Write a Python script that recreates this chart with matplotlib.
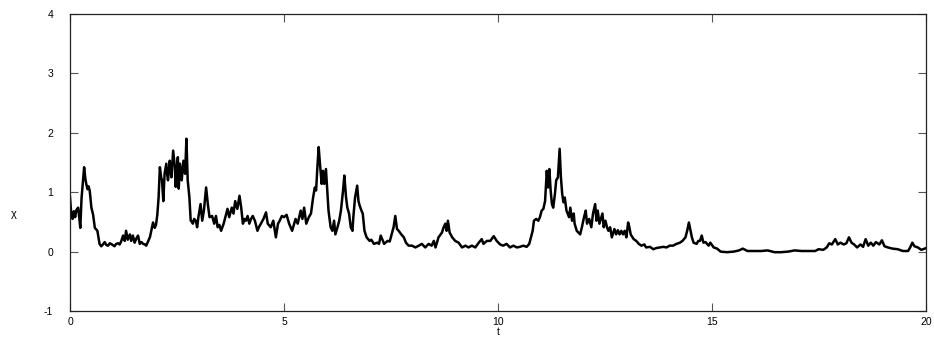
import matplotlib
matplotlib.use("Agg")
import matplotlib.pyplot as plt

t = [0.00, 0.03, 0.06, 0.09, 0.12, 0.15, 0.19, 0.22, 0.24, 0.27, 0.30, 0.33, 0.36, 0.38, 0.41, 0.43, 0.46, 0.50,
     0.54, 0.58, 0.64, 0.69, 0.73, 0.77, 0.81, 0.85, 0.89, 0.93, 0.96, 1.00, 1.04, 1.08, 1.12, 1.16, 1.20, 1.24,
     1.28, 1.31, 1.35, 1.40, 1.43, 1.47, 1.51, 1.55, 1.59, 1.63, 1.67, 1.71, 1.75, 1.78, 1.83, 1.87, 1.90, 1.94,
     1.98, 2.01, 2.04, 2.07, 2.10, 2.13, 2.15, 2.18, 2.21, 2.25, 2.27, 2.29, 2.33, 2.35, 2.37, 2.41, 2.45, 2.47,
     2.49, 2.52, 2.54, 2.57, 2.61, 2.65, 2.69, 2.72, 2.75, 2.79, 2.82, 2.85, 2.87, 2.90, 2.94, 2.97, 3.00, 3.05,
     3.09, 3.13, 3.18, 3.22, 3.26, 3.32, 3.37, 3.41, 3.45, 3.49, 3.53, 3.59, 3.65, 3.68, 3.72, 3.78, 3.82, 3.86,
     3.91, 3.96, 4.00, 4.04, 4.08, 4.11, 4.15, 4.19, 4.23, 4.27, 4.32, 4.38, 4.42, 4.46, 4.52, 4.58, 4.62, 4.69,
     4.75, 4.81, 4.86, 4.90, 4.95, 5.00, 5.06, 5.12, 5.19, 5.23, 5.27, 5.32, 5.39, 5.43, 5.47, 5.52, 5.58, 5.63,
     5.68, 5.72, 5.75, 5.78, 5.81, 5.84, 5.88, 5.91, 5.94, 5.98, 6.01, 6.04, 6.09, 6.13, 6.17, 6.20, 6.25, 6.29,
     6.33, 6.38, 6.41, 6.45, 6.48, 6.52, 6.56, 6.60, 6.62, 6.66, 6.71, 6.74, 6.77, 6.81, 6.84, 6.88, 6.93, 7.00,
     7.04, 7.10, 7.18, 7.22, 7.26, 7.34, 7.42, 7.47, 7.52, 7.56, 7.60, 7.64, 7.68, 7.74, 7.80, 7.85, 7.91, 7.99,
     8.07, 8.15, 8.22, 8.30, 8.38, 8.45, 8.50, 8.54, 8.61, 8.69, 8.73, 8.77, 8.80, 8.83, 8.87, 8.93, 9.00, 9.08,
     9.16, 9.24, 9.31, 9.39, 9.47, 9.55, 9.62, 9.66, 9.74, 9.82, 9.90, 9.97, 10.05, 10.12, 10.20, 10.28, 10.36,
     10.44, 10.51, 10.59, 10.67, 10.73, 10.77, 10.81, 10.84, 10.89, 10.94, 10.98, 11.02, 11.06, 11.10, 11.14,
     11.17, 11.20, 11.23, 11.26, 11.29, 11.33, 11.36, 11.40, 11.44, 11.47, 11.50, 11.53, 11.56, 11.60, 11.66,
     11.69, 11.73, 11.77, 11.79, 11.84, 11.92, 11.96, 12.01, 12.05, 12.08, 12.13, 12.18, 12.22, 12.27, 12.30,
     12.33, 12.37, 12.44, 12.47, 12.51, 12.55, 12.58, 12.62, 12.66, 12.72, 12.76, 12.80, 12.84, 12.88, 12.92,
     12.96, 13.00, 13.04, 13.07, 13.10, 13.17, 13.23, 13.29, 13.35, 13.42, 13.46, 13.55, 13.63, 13.70, 13.78,
     13.86, 13.94, 14.01, 14.09, 14.17, 14.25, 14.31, 14.38, 14.42, 14.46, 14.50, 14.53, 14.57, 14.64, 14.68,
     14.72, 14.76, 14.80, 14.85, 14.92, 14.96, 15.04, 15.12, 15.20, 15.35, 15.51, 15.63, 15.72, 15.83, 15.98,
     16.15, 16.30, 16.46, 16.61, 16.78, 16.93, 17.09, 17.24, 17.41, 17.49, 17.60, 17.68, 17.74, 17.80, 17.88,
     17.94, 18.00, 18.08, 18.14, 18.20, 18.26, 18.32, 18.39, 18.47, 18.53, 18.59, 18.65, 18.71, 18.77, 18.83,
     18.91, 18.97, 19.03, 19.11, 19.22, 19.34, 19.46, 19.58, 19.63, 19.68, 19.73, 19.81, 19.89, 19.97, 20.00]

chi = [0.92, 0.62, 0.55, 0.68, 0.58, 0.70, 0.74, 0.55, 0.40, 0.90, 1.15, 1.42, 1.22, 1.14, 1.05, 1.10, 1.03, 0.74,
       0.62, 0.40, 0.35, 0.13, 0.09, 0.12, 0.16, 0.11, 0.10, 0.14, 0.13, 0.11, 0.09, 0.13, 0.14, 0.12, 0.18, 0.27,
       0.18, 0.35, 0.20, 0.29, 0.18, 0.27, 0.15, 0.22, 0.27, 0.13, 0.16, 0.13, 0.12, 0.10, 0.18, 0.25, 0.35, 0.49,
       0.40, 0.45, 0.62, 0.91, 1.42, 1.25, 1.20, 0.85, 1.31, 1.48, 1.30, 1.20, 1.53, 1.40, 1.25, 1.70, 1.42, 1.09,
       1.36, 1.59, 1.06, 1.48, 1.20, 1.53, 1.31, 1.90, 1.20, 0.91, 0.52, 0.50, 0.47, 0.55, 0.52, 0.41, 0.58, 0.80,
       0.52, 0.70, 1.08, 0.80, 0.58, 0.60, 0.47, 0.60, 0.41, 0.45, 0.35, 0.47, 0.64, 0.72, 0.58, 0.74, 0.64, 0.85,
       0.72, 0.94, 0.74, 0.47, 0.55, 0.52, 0.60, 0.47, 0.55, 0.60, 0.52, 0.35, 0.42, 0.47, 0.55, 0.66, 0.47, 0.41,
       0.52, 0.24, 0.47, 0.52, 0.60, 0.58, 0.62, 0.47, 0.35, 0.45, 0.55, 0.47, 0.69, 0.55, 0.74, 0.47, 0.58, 0.64,
       0.91, 1.08, 1.03, 1.42, 1.76, 1.48, 1.14, 1.36, 1.14, 1.39, 1.03, 0.69, 0.41, 0.35, 0.52, 0.29, 0.41, 0.52,
       0.69, 1.03, 1.28, 0.91, 0.74, 0.64, 0.41, 0.35, 0.58, 0.91, 1.11, 0.85, 0.77, 0.69, 0.64, 0.35, 0.24, 0.18,
       0.20, 0.13, 0.15, 0.13, 0.27, 0.13, 0.18, 0.17, 0.30, 0.41, 0.60, 0.38, 0.35, 0.29, 0.24, 0.15, 0.10, 0.10,
       0.07, 0.10, 0.13, 0.07, 0.13, 0.10, 0.18, 0.07, 0.24, 0.32, 0.41, 0.47, 0.35, 0.52, 0.32, 0.24, 0.18, 0.15,
       0.07, 0.10, 0.07, 0.10, 0.07, 0.15, 0.21, 0.13, 0.18, 0.18, 0.26, 0.18, 0.12, 0.10, 0.13, 0.07, 0.10,
       0.07, 0.08, 0.10, 0.08, 0.13, 0.24, 0.35, 0.52, 0.55, 0.52, 0.58, 0.69, 0.72, 0.85, 1.36,
       1.08, 1.39, 1.03, 0.80, 0.74, 0.97, 1.20, 1.25, 1.73, 1.25, 0.97, 0.83, 0.91, 0.69, 0.58,
       0.74, 0.52, 0.64, 0.47, 0.35, 0.29, 0.41, 0.58, 0.69, 0.47, 0.55, 0.41, 0.64, 0.80, 0.52,
       0.69, 0.47, 0.64, 0.41, 0.52, 0.40, 0.35, 0.41, 0.24, 0.38, 0.29, 0.36, 0.29, 0.35, 0.29,
       0.35, 0.24, 0.49, 0.41, 0.29, 0.21, 0.18, 0.13, 0.10, 0.12, 0.07, 0.08, 0.04, 0.06, 0.07,
       0.08, 0.07, 0.10, 0.10, 0.13, 0.15, 0.18, 0.24, 0.35, 0.49, 0.35, 0.24, 0.15, 0.13, 0.18,
       0.18, 0.27, 0.15, 0.16, 0.10, 0.15, 0.07, 0.05, 0.00, -0.01, 0.00, 0.02, 0.05, 0.01, 0.01,
       0.01, 0.02, -0.01, -0.01, 0.00, 0.02, 0.01, 0.01, 0.01, 0.04, 0.03, 0.07, 0.14, 0.12, 0.21,
       0.12, 0.15, 0.12, 0.14, 0.24, 0.15, 0.12, 0.07, 0.12, 0.08, 0.21, 0.10, 0.15, 0.10, 0.16,
       0.12, 0.19, 0.09, 0.07, 0.05, 0.04, 0.01, 0.01, 0.07, 0.15, 0.09, 0.07, 0.03, 0.05, 0.06]

xticks = [0, 5, 10, 15, 20]
yticks = [-1, 0, 1, 2, 3, 4]

W, H = 934, 339
fig = plt.figure(figsize=(W / 100, H / 100), dpi=100)
ax = fig.add_axes([70 / W, 1 - 311 / H, (926 - 70) / W, (311 - 14) / H])

ax.plot(t, chi, color="black", linewidth=1.8)

ax.set_xlim(0, 20)
ax.set_ylim(-1, 4)
ax.set_xticks(xticks)
ax.set_yticks(yticks)
ax.set_xticklabels([str(v) for v in xticks], family="Liberation Sans", fontsize=7.5)
ax.set_yticklabels([str(v) for v in yticks], family="Liberation Sans", fontsize=7.5)
ax.tick_params(axis="both", direction="in", length=5.5, width=0.8, color="#555555",
               top=True, right=True)
ax.tick_params(axis="y", pad=12)
ax.tick_params(axis="x", pad=4)
for s in ax.spines.values():
    s.set_linewidth(0.9)
    s.set_color("#222222")

fig.text(14 / W, 1 - 214 / H, "χ", family="Liberation Sans", fontsize=8, ha="center", va="center")
fig.text(498 / W, 1 - 332 / H, "t", family="Liberation Sans", fontsize=7.5, ha="center", va="center")

fig.savefig("out.png", dpi=100)
